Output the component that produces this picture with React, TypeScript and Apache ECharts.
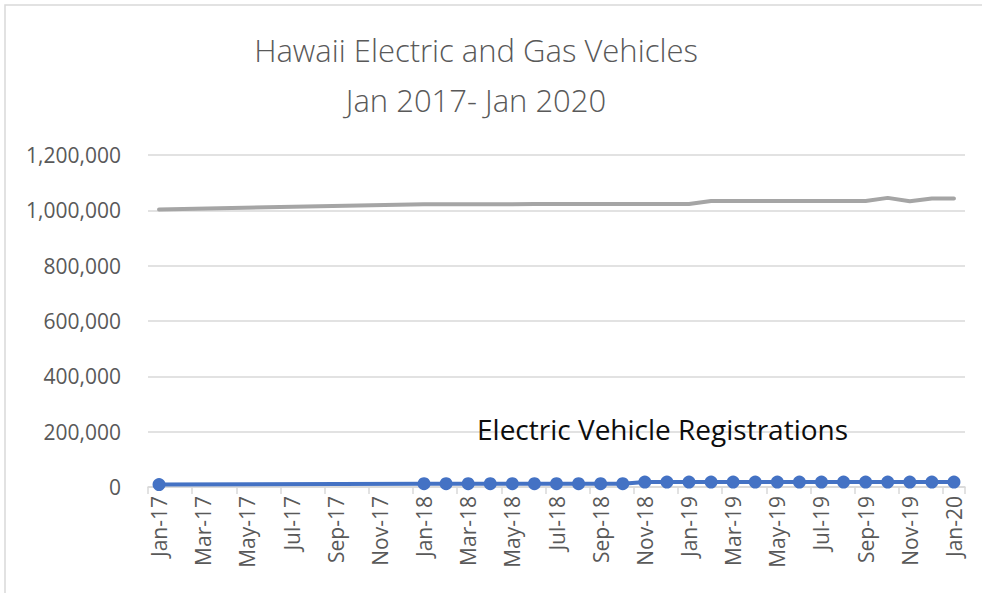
import React, { useEffect, useRef } from "react";
import * as echarts from "echarts";

const categories = [
  "Jan-17", "Feb-17", "Mar-17", "Apr-17", "May-17", "Jun-17", "Jul-17", "Aug-17", "Sep-17", "Oct-17", "Nov-17", "Dec-17",
  "Jan-18", "Feb-18", "Mar-18", "Apr-18", "May-18", "Jun-18", "Jul-18", "Aug-18", "Sep-18", "Oct-18", "Nov-18", "Dec-18",
  "Jan-19", "Feb-19", "Mar-19", "Apr-19", "May-19", "Jun-19", "Jul-19", "Aug-19", "Sep-19", "Oct-19", "Nov-19", "Dec-19",
  "Jan-20",
];

// Gas vehicles (gray); months without a reading are null
const gasVehicles = [
  1003000, null, null, null, null, null, null, null, null, null, null, null,
  1022000, 1022000, 1022000, 1022000, 1022000, 1023000, 1023000, 1023000, 1023000, 1023000, 1023000, 1023000,
  1023000, 1034000, 1034000, 1034000, 1034000, 1034000, 1034000, 1034000, 1034000, 1045000, 1033000, 1043000,
  1043000,
];

// Electric vehicle registrations (blue)
const electricVehicles = [
  9000, null, null, null, null, null, null, null, null, null, null, null,
  12000, 12000, 12000, 12000, 12000, 12000, 12000, 12000, 12000, 12000, 18000, 18000,
  18000, 18000, 18000, 18000, 18000, 18000, 18000, 18000, 18000, 18000, 18000, 18000,
  18000,
];

const yTicks = { min: 0, max: 1200000, interval: 200000 };

const titleLines = ["Hawaii Electric and Gas Vehicles", "Jan 2017- Jan 2020"];
const seriesLabel = "Electric Vehicle Registrations";

const FONT = "'Open Sans', 'Noto Sans', sans-serif";

export default function App() {
  const ref = useRef<HTMLDivElement>(null);

  useEffect(() => {
    document.body.style.margin = "0";
    if (!ref.current) return;
    const chart = echarts.init(ref.current, undefined, { renderer: "svg" });
    chart.setOption({
      animation: false,
      backgroundColor: "#ffffff",
      title: {
        text: titleLines.join("\n"),
        left: 471,
        textAlign: "center",
        top: 20,
        textStyle: {
          fontFamily: FONT,
          fontSize: 31,
          fontWeight: 300,
          color: "#595959",
          lineHeight: 50,
        },
      },
      grid: { left: 148, right: 17, top: 155, bottom: 106, containLabel: false },
      xAxis: {
        type: "category",
        data: categories,
        boundaryGap: true,
        axisLine: { show: true, lineStyle: { color: "#d9d9d9", width: 1.5 } },
        axisTick: { show: true, interval: 1, length: 7, lineStyle: { color: "#d9d9d9", width: 1.5 } },
        axisLabel: {
          interval: 1,
          rotate: 90,
          margin: 9,
          fontFamily: FONT,
          fontSize: 21,
          color: "#595959",
        },
        splitLine: { show: false },
      },
      yAxis: {
        type: "value",
        min: yTicks.min,
        max: yTicks.max,
        interval: yTicks.interval,
        axisLine: { show: false },
        axisTick: { show: false },
        axisLabel: {
          margin: 27,
          fontFamily: FONT,
          fontSize: 21,
          color: "#595959",
          formatter: (v: number) => v.toLocaleString("en-US"),
        },
        splitLine: { lineStyle: { color: "#d9d9d9", width: 1.5 } },
      },
      series: [
        {
          name: "Gas Vehicles",
          type: "line",
          data: gasVehicles,
          connectNulls: true,
          showSymbol: false,
          symbol: "none",
          lineStyle: { color: "#a5a5a5", width: 4, cap: "round", join: "round" },
          itemStyle: { color: "#a5a5a5" },
          z: 3,
        },
        {
          name: seriesLabel,
          type: "line",
          data: electricVehicles,
          connectNulls: true,
          symbol: "circle",
          symbolSize: 13,
          lineStyle: { color: "#4472c4", width: 4 },
          itemStyle: { color: "#4472c4" },
          z: 4,
        },
      ],
      graphic: [
        {
          type: "rect",
          shape: { x: 5, y: 5, width: 1000, height: 620 },
          style: { fill: "none", stroke: "#d9d9d9", lineWidth: 1.5 },
          silent: true,
        },
        {
          type: "text",
          left: 477,
          top: 415,
          style: {
            text: seriesLabel,
            fontFamily: FONT,
            fontSize: 28,
            fill: "#0d0d0d",
          },
          z: 10,
        },
      ],
    });
    return () => chart.dispose();
  }, []);

  return <div ref={ref} style={{ width: 982, height: 593 }} />;
}
